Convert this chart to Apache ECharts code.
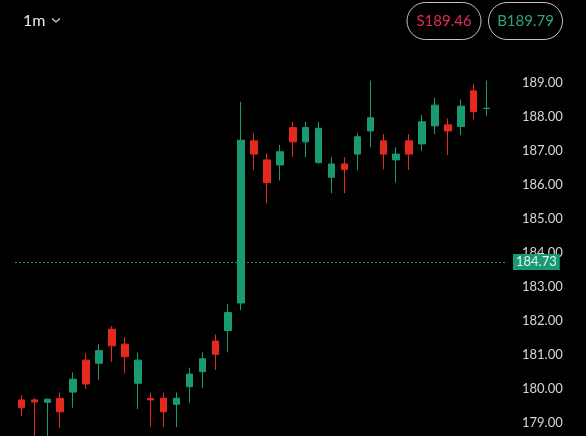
<!DOCTYPE html>
<html>
<head>
<meta charset="utf-8">
<script src="https://cdn.jsdelivr.net/npm/echarts@6/dist/echarts.min.js"></script>
<style>
html,body{margin:0;padding:0;background:#000;}
#chart{width:586px;height:436px;}
</style>
</head>
<body>
<div id="chart"></div>
<script>
// ---- data ----
var categories = ['09:31','09:32','09:33','09:34','09:35','09:36','09:37','09:38','09:39','09:40',
  '09:41','09:42','09:43','09:44','09:45','09:46','09:47','09:48','09:49','09:50',
  '09:51','09:52','09:53','09:54','09:55','09:56','09:57','09:58','09:59','10:00',
  '10:01','10:02','10:03','10:04','10:05','10:06','10:07','10:08'];
var opens  = [179.67,179.67,179.60,179.71,179.90,180.84,180.75,181.75,181.31,180.16,
  179.71,179.72,179.54,180.06,180.50,181.40,181.71,182.52,187.29,186.73,
  186.58,187.68,187.26,186.65,186.22,186.61,186.90,187.58,187.29,186.73,
  187.29,187.20,187.73,187.76,187.71,188.76,188.24];
var closes = [179.44,179.61,179.69,179.32,180.28,180.14,181.12,181.26,180.94,180.84,
  179.67,179.32,179.72,180.43,180.88,181.01,182.24,187.31,186.90,186.06,
  186.97,187.26,187.68,187.66,186.61,186.45,187.41,187.97,186.90,186.90,
  186.90,187.85,188.34,187.58,188.31,188.15,188.25];
var lows   = [179.19,178.60,178.60,178.84,179.44,179.99,180.26,180.79,180.45,179.40,
  178.88,178.87,178.87,179.59,180.02,180.55,181.07,182.31,186.43,185.45,
  186.12,186.82,186.81,186.62,185.75,185.75,186.43,187.10,186.45,186.06,
  186.43,187.00,187.49,186.87,187.46,187.92,188.02];
var highs  = [179.81,179.73,179.72,179.89,180.48,181.04,181.31,181.84,181.50,181.06,
  179.89,179.89,179.89,180.62,181.07,181.60,182.49,188.44,187.51,186.92,
  187.17,187.85,187.85,187.85,186.81,186.81,187.51,189.06,187.49,187.10,
  187.49,188.05,188.56,187.95,188.51,188.96,189.06];
var yTickMin = 179, yTickMax = 189;
var priceLineLevel = 183.73;
var priceLineLabel = '184.73';
var sellLabel = 'S189.46';
var buyLabel = 'B189.79';
var intervalLabel = '1m';

// ---- build ----
var candleData = opens.map(function(o, i){ return [o, closes[i], lows[i], highs[i]]; });

var GREEN = '#1a9a72', RED = '#e4291f';
var chart = echarts.init(document.getElementById('chart'), null, {renderer:'canvas'});
chart.setOption({
  backgroundColor: '#000',
  animation: false,
  textStyle: {fontFamily: 'Lato'},
  grid: {left: 15, width: 491, top: 48.7, height: 408, outerBoundsMode: 'none', containLabel: false},
  xAxis: {
    type: 'category', data: categories, boundaryGap: true,
    axisLine: {show:false}, axisTick: {show:false}, axisLabel: {show:false}, splitLine: {show:false}
  },
  yAxis: {
    type: 'value', position: 'right', min: 178, max: 190, interval: 1, scale: true,
    axisLine: {show:false}, axisTick: {show:false}, splitLine: {show:false},
    axisLabel: {
      margin: 16, color: '#d6d6d6', fontSize: 13, fontFamily: 'Lato',
      formatter: function(v){ return (v >= yTickMin && v <= yTickMax) ? v.toFixed(2) : ''; }
    }
  },
  series: [{
    type: 'candlestick',
    data: candleData,
    barWidth: 7,
    clip: false,
    itemStyle: {color: GREEN, color0: RED, borderColor: GREEN, borderColor0: RED, borderWidth: 1},
    markLine: {
      silent: true,
      symbol: ['none','none'],
      lineStyle: {color: GREEN, type: [2,2], width: 1},
      label: {
        position: 'end', distance: 7, formatter: priceLineLabel,
        backgroundColor: GREEN, color: '#e6f4ee', fontSize: 13, fontFamily: 'Lato',
        padding: [2,3,1,3]
      },
      data: [{yAxis: priceLineLevel}]
    }
  }],
  graphic: [
    {type:'text', left: 23, top: 13, style:{text: intervalLabel, fill:'#e8e8e8', font:'16px Lato'}},
    {type:'polyline', shape:{points:[[52,18.5],[56,22],[60,18.5]]}, style:{stroke:'#cfcfcf', lineWidth:1.3, fill:null}},
    {type:'rect', shape:{x:407, y:2.5, width:74, height:37, r:18.5}, style:{fill:null, stroke:'#c4c4c4', lineWidth:1}},
    {type:'text', x:444, y:21, style:{text: sellLabel, fill:'#e32a55', font:'15px Lato', textAlign:'center', textVerticalAlign:'middle'}},
    {type:'rect', shape:{x:488.5, y:2.5, width:74, height:37, r:18.5}, style:{fill:null, stroke:'#c4c4c4', lineWidth:1}},
    {type:'text', x:525.5, y:21, style:{text: buyLabel, fill:'#2aa57c', font:'15px Lato', textAlign:'center', textVerticalAlign:'middle'}}
  ]
});
</script>
</body>
</html>
